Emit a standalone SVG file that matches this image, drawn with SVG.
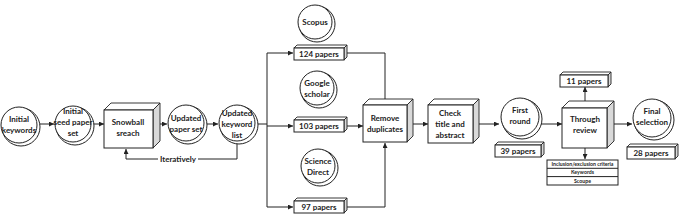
<svg xmlns="http://www.w3.org/2000/svg" width="680" height="217" viewBox="0 0 680 217">
<style>
.t{font-family:Lato,"Open Sans","Liberation Sans",sans-serif;font-weight:bold;font-size:8px;fill:#222;text-anchor:middle}
.s{font-family:Lato,"Open Sans","Liberation Sans",sans-serif;font-weight:bold;font-size:5.2px;fill:#222;text-anchor:middle}
.c{fill:#fff;stroke:#222;stroke-width:1}
.f{fill:#fff;stroke:#222;stroke-width:1}
.tp{fill:#fff;stroke:#222;stroke-width:0.9}
.sd{fill:#d9d9d9;stroke:#222;stroke-width:0.9}
.ln{fill:none;stroke:#222;stroke-width:1}
</style>
<defs>
<marker id="ar" viewBox="0 0 6 6" refX="6" refY="3" markerWidth="5" markerHeight="5" orient="auto" markerUnits="userSpaceOnUse">
<path d="M0,0 L6,3 L0,6 z" fill="#222"/>
</marker>
</defs>
<rect width="680" height="217" fill="#fff"/>

<g id="connectors">
<line class="ln" x1="39" y1="124" x2="54" y2="124" marker-end="url(#ar)"/>
<line class="ln" x1="93" y1="124" x2="104" y2="124" marker-end="url(#ar)"/>
<line class="ln" x1="160" y1="124" x2="167" y2="124" marker-end="url(#ar)"/>
<line class="ln" x1="205" y1="124" x2="218" y2="124" marker-end="url(#ar)"/>
<polyline class="ln" points="237,143 237,159 198,159"/>
<polyline class="ln" points="158,159 126,159 126,149" marker-end="url(#ar)"/>
<line class="ln" x1="256" y1="124" x2="267" y2="124"/>
<line class="ln" x1="267" y1="53" x2="267" y2="207"/>
<line class="ln" x1="267" y1="53" x2="293" y2="53" marker-end="url(#ar)"/>
<line class="ln" x1="267" y1="126" x2="293" y2="126" marker-end="url(#ar)"/>
<line class="ln" x1="267" y1="207" x2="293" y2="207" marker-end="url(#ar)"/>
<polyline class="ln" points="347,53 385,53 385,105" marker-end="url(#ar)"/>
<polyline class="ln" points="347,207 385,207 385,143" marker-end="url(#ar)"/>
<line class="ln" x1="347" y1="126" x2="363" y2="126" marker-end="url(#ar)"/>
<line class="ln" x1="413" y1="124" x2="428" y2="124" marker-end="url(#ar)"/>
<line class="ln" x1="479" y1="124" x2="499" y2="124" marker-end="url(#ar)"/>
<line class="ln" x1="540" y1="124" x2="562" y2="124" marker-end="url(#ar)"/>
<line class="ln" x1="585" y1="108" x2="585" y2="87" marker-end="url(#ar)"/>
<line class="ln" x1="585" y1="148" x2="585" y2="159" marker-end="url(#ar)"/>
<line class="ln" x1="614" y1="124" x2="632" y2="124" marker-end="url(#ar)"/>
</g>
<text class="t" x="178" y="162">Iteratively</text>

<g id="initial-keywords">
<circle class="c" cx="21" cy="127" r="19"/>
<circle class="c" cx="19" cy="125" r="18"/>
<text class="t" x="19" y="122">Initial</text>
<text class="t" x="19" y="133">keywords</text>
</g>
<g id="seed-paper-set">
<circle class="c" cx="75" cy="126" r="19"/>
<circle class="c" cx="73" cy="124" r="18"/>
<text class="t" x="73" y="114">Initial</text>
<text class="t" x="73" y="125">seed paper</text>
<text class="t" x="73" y="136">set</text>
</g>
<g id="snowball">
<polygon class="tp" points="104,110 111,103 160,103 153,110"/>
<polygon class="sd" points="153,110 160,103 160,141 153,148"/>
<rect class="f" x="104" y="110" width="49" height="38"/>
<text class="t" x="128" y="125">Snowball</text>
<text class="t" x="128" y="136">sreach</text>
</g>
<g id="updated-paper-set">
<circle class="c" cx="188" cy="125" r="19"/>
<circle class="c" cx="186" cy="123" r="18"/>
<text class="t" x="186" y="121">Updated</text>
<text class="t" x="186" y="132">paper set</text>
</g>
<g id="updated-keyword-list">
<circle class="c" cx="239" cy="125" r="19"/>
<circle class="c" cx="237" cy="123" r="18"/>
<text class="t" x="237" y="116">Updated</text>
<text class="t" x="237" y="127">keyword</text>
<text class="t" x="237" y="138">list</text>
</g>
<g id="scopus">
<circle class="c" cx="317" cy="24" r="18"/>
<circle class="c" cx="315" cy="22" r="17"/>
<text class="t" x="315" y="25">Scopus</text>
</g>
<g id="papers-124">
<polygon class="tp" points="294,48 297,45 347,45 344,48"/>
<polygon class="sd" points="344,48 347,45 347,57 344,60"/>
<rect class="f" x="294" y="48" width="50" height="12"/>
<text class="t" x="319" y="57">124 papers</text>
</g>
<g id="google-scholar">
<circle class="c" cx="319" cy="90" r="18"/>
<circle class="c" cx="317" cy="88" r="17"/>
<text class="t" x="317" y="86">Google</text>
<text class="t" x="317" y="97">scholar</text>
</g>
<g id="papers-103">
<polygon class="tp" points="294,120 297,117 347,117 344,120"/>
<polygon class="sd" points="344,120 347,117 347,129 344,132"/>
<rect class="f" x="294" y="120" width="50" height="12"/>
<text class="t" x="319" y="129">103 papers</text>
</g>
<g id="science-direct">
<circle class="c" cx="320" cy="168" r="18"/>
<circle class="c" cx="318" cy="166" r="17"/>
<text class="t" x="318" y="164">Science</text>
<text class="t" x="318" y="175">Direct</text>
</g>
<g id="papers-97">
<polygon class="tp" points="294,201 297,198 347,198 344,201"/>
<polygon class="sd" points="344,201 347,198 347,210 344,213"/>
<rect class="f" x="294" y="201" width="50" height="12"/>
<text class="t" x="319" y="210">97 papers</text>
</g>
<g id="remove-duplicates">
<polygon class="tp" points="363,105 369,99 413,99 407,105"/>
<polygon class="sd" points="407,105 413,99 413,136 407,142"/>
<rect class="f" x="363" y="105" width="44" height="37"/>
<text class="t" x="385" y="121">Remove</text>
<text class="t" x="385" y="132">duplicates</text>
</g>
<g id="check-title">
<polygon class="tp" points="428,105 434,99 479,99 473,105"/>
<polygon class="sd" points="473,105 479,99 479,137 473,143"/>
<rect class="f" x="428" y="105" width="45" height="38"/>
<text class="t" x="450" y="116">Check</text>
<text class="t" x="450" y="127">title and</text>
<text class="t" x="450" y="138">abstract</text>
</g>
<g id="first-round">
<circle class="c" cx="522" cy="119" r="20"/>
<circle class="c" cx="520" cy="117" r="19"/>
<text class="t" x="520" y="113">First</text>
<text class="t" x="520" y="124">round</text>
</g>
<g id="papers-39">
<polygon class="tp" points="495,145 498,142 544,142 541,145"/>
<polygon class="sd" points="541,145 544,142 544,154 541,157"/>
<rect class="f" x="495" y="145" width="46" height="12"/>
<text class="t" x="518" y="154">39 papers</text>
</g>
<g id="through-review">
<polygon class="tp" points="562,108 569,101 614,101 607,108"/>
<polygon class="sd" points="607,108 614,101 614,141 607,148"/>
<rect class="f" x="562" y="108" width="45" height="40"/>
<text class="t" x="585" y="122">Through</text>
<text class="t" x="585" y="133">review</text>
</g>
<g id="papers-11">
<polygon class="tp" points="560,75 563,72 611,72 608,75"/>
<polygon class="sd" points="608,75 611,72 611,84 608,87"/>
<rect class="f" x="560" y="75" width="48" height="12"/>
<text class="t" x="584" y="84">11 papers</text>
</g>
<g id="criteria">
<rect class="f" x="547" y="160" width="71" height="25"/>
<line class="ln" x1="547" y1="168.3" x2="618" y2="168.3"/>
<line class="ln" x1="547" y1="176.6" x2="618" y2="176.6"/>
<text class="s" x="582.5" y="166">Inclusion/exclusion criteria</text>
<text class="s" x="582.5" y="174.3">Keywords</text>
<text class="s" x="582.5" y="182.6">Scoupe</text>
</g>
<g id="final-selection">
<circle class="c" cx="654" cy="120" r="20"/>
<circle class="c" cx="652" cy="118" r="19"/>
<text class="t" x="652" y="114">Final</text>
<text class="t" x="652" y="125">selection</text>
</g>
<g id="papers-28">
<polygon class="tp" points="627,147 630,144 678,144 675,147"/>
<polygon class="sd" points="675,147 678,144 678,156 675,159"/>
<rect class="f" x="627" y="147" width="48" height="12"/>
<text class="t" x="651" y="156">28 papers</text>
</g>
</svg>
